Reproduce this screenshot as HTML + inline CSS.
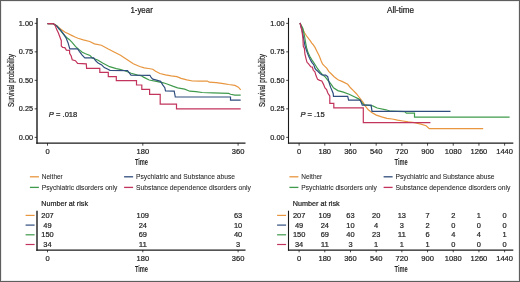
<!DOCTYPE html><html><head><meta charset="utf-8"><style>html,body{margin:0;padding:0;background:#fff}svg{display:block;will-change:transform}text{font-family:"Liberation Sans", sans-serif;stroke:#1e1e1e;stroke-width:0.22px}</style></head><body>
<svg width="520" height="282" viewBox="0 0 520 282">
<rect x="0" y="0" width="520" height="282" fill="#fff"/>
<text x="141.6" y="12.6" font-size="8.2" text-anchor="middle" textLength="22.4" lengthAdjust="spacingAndGlyphs" fill="#1e1e1e" >1-year</text>
<line x1="37.0" y1="17.9" x2="37.0" y2="143.7" stroke="#1a1a1a" stroke-width="1.4"/>
<line x1="36.3" y1="143.1" x2="245.5" y2="143.1" stroke="#1a1a1a" stroke-width="1.2"/>
<line x1="34.7" y1="137.35" x2="37.0" y2="137.35" stroke="#1a1a1a" stroke-width="0.8"/>
<text x="33.0" y="139.85" font-size="7.9" text-anchor="end" textLength="14.2" lengthAdjust="spacingAndGlyphs" fill="#1e1e1e" >0.00</text>
<line x1="34.7" y1="108.85" x2="37.0" y2="108.85" stroke="#1a1a1a" stroke-width="0.8"/>
<text x="33.0" y="111.35" font-size="7.9" text-anchor="end" textLength="14.2" lengthAdjust="spacingAndGlyphs" fill="#1e1e1e" >0.25</text>
<line x1="34.7" y1="80.35" x2="37.0" y2="80.35" stroke="#1a1a1a" stroke-width="0.8"/>
<text x="33.0" y="82.85" font-size="7.9" text-anchor="end" textLength="14.2" lengthAdjust="spacingAndGlyphs" fill="#1e1e1e" >0.50</text>
<line x1="34.7" y1="51.85" x2="37.0" y2="51.85" stroke="#1a1a1a" stroke-width="0.8"/>
<text x="33.0" y="54.349999999999994" font-size="7.9" text-anchor="end" textLength="14.2" lengthAdjust="spacingAndGlyphs" fill="#1e1e1e" >0.75</text>
<line x1="34.7" y1="23.35" x2="37.0" y2="23.35" stroke="#1a1a1a" stroke-width="0.8"/>
<text x="33.0" y="25.849999999999994" font-size="7.9" text-anchor="end" textLength="14.2" lengthAdjust="spacingAndGlyphs" fill="#1e1e1e" >1.00</text>
<line x1="47.50" y1="143" x2="47.50" y2="145.7" stroke="#1a1a1a" stroke-width="0.8"/>
<text x="47.50" y="154.2" font-size="8.0" text-anchor="middle" textLength="4.20" lengthAdjust="spacingAndGlyphs" fill="#1e1e1e" >0</text>
<line x1="142.80" y1="143" x2="142.80" y2="145.7" stroke="#1a1a1a" stroke-width="0.8"/>
<text x="142.80" y="154.2" font-size="8.0" text-anchor="middle" textLength="12.59" lengthAdjust="spacingAndGlyphs" fill="#1e1e1e" >180</text>
<line x1="238.10" y1="143" x2="238.10" y2="145.7" stroke="#1a1a1a" stroke-width="0.8"/>
<text x="238.10" y="154.2" font-size="8.0" text-anchor="middle" textLength="12.59" lengthAdjust="spacingAndGlyphs" fill="#1e1e1e" >360</text>
<text x="141.45" y="165" font-size="9.0" text-anchor="middle" textLength="13.1" lengthAdjust="spacingAndGlyphs" fill="#1e1e1e" font-weight="bold" style="stroke-width:0">Time</text>
<text transform="translate(13.8,80.5) rotate(-90)" x="0" y="0" font-size="8.6" text-anchor="middle" textLength="52.8" lengthAdjust="spacingAndGlyphs" fill="#1e1e1e">Survival probability</text>
<text x="48.8" y="116.6" font-size="7.6" fill="#1e1e1e"><tspan font-style="italic">P</tspan> = .018</text>
<text x="400.6" y="12.6" font-size="8.2" text-anchor="middle" textLength="27.0" lengthAdjust="spacingAndGlyphs" fill="#1e1e1e" >All-time</text>
<line x1="288.5" y1="17.9" x2="288.5" y2="143.7" stroke="#1a1a1a" stroke-width="1.1"/>
<line x1="287.95" y1="143.1" x2="513.3" y2="143.1" stroke="#1a1a1a" stroke-width="1.2"/>
<line x1="286.2" y1="137.35" x2="288.5" y2="137.35" stroke="#1a1a1a" stroke-width="0.8"/>
<text x="284.5" y="139.85" font-size="7.9" text-anchor="end" textLength="14.2" lengthAdjust="spacingAndGlyphs" fill="#1e1e1e" >0.00</text>
<line x1="286.2" y1="108.85" x2="288.5" y2="108.85" stroke="#1a1a1a" stroke-width="0.8"/>
<text x="284.5" y="111.35" font-size="7.9" text-anchor="end" textLength="14.2" lengthAdjust="spacingAndGlyphs" fill="#1e1e1e" >0.25</text>
<line x1="286.2" y1="80.35" x2="288.5" y2="80.35" stroke="#1a1a1a" stroke-width="0.8"/>
<text x="284.5" y="82.85" font-size="7.9" text-anchor="end" textLength="14.2" lengthAdjust="spacingAndGlyphs" fill="#1e1e1e" >0.50</text>
<line x1="286.2" y1="51.85" x2="288.5" y2="51.85" stroke="#1a1a1a" stroke-width="0.8"/>
<text x="284.5" y="54.349999999999994" font-size="7.9" text-anchor="end" textLength="14.2" lengthAdjust="spacingAndGlyphs" fill="#1e1e1e" >0.75</text>
<line x1="286.2" y1="23.35" x2="288.5" y2="23.35" stroke="#1a1a1a" stroke-width="0.8"/>
<text x="284.5" y="25.849999999999994" font-size="7.9" text-anchor="end" textLength="14.2" lengthAdjust="spacingAndGlyphs" fill="#1e1e1e" >1.00</text>
<line x1="299.10" y1="143" x2="299.10" y2="145.7" stroke="#1a1a1a" stroke-width="0.8"/>
<text x="299.10" y="154.2" font-size="8.0" text-anchor="middle" textLength="4.20" lengthAdjust="spacingAndGlyphs" fill="#1e1e1e" >0</text>
<line x1="324.79" y1="143" x2="324.79" y2="145.7" stroke="#1a1a1a" stroke-width="0.8"/>
<text x="324.79" y="154.2" font-size="8.0" text-anchor="middle" textLength="12.59" lengthAdjust="spacingAndGlyphs" fill="#1e1e1e" >180</text>
<line x1="350.48" y1="143" x2="350.48" y2="145.7" stroke="#1a1a1a" stroke-width="0.8"/>
<text x="350.48" y="154.2" font-size="8.0" text-anchor="middle" textLength="12.59" lengthAdjust="spacingAndGlyphs" fill="#1e1e1e" >360</text>
<line x1="376.17" y1="143" x2="376.17" y2="145.7" stroke="#1a1a1a" stroke-width="0.8"/>
<text x="376.17" y="154.2" font-size="8.0" text-anchor="middle" textLength="12.59" lengthAdjust="spacingAndGlyphs" fill="#1e1e1e" >540</text>
<line x1="401.86" y1="143" x2="401.86" y2="145.7" stroke="#1a1a1a" stroke-width="0.8"/>
<text x="401.86" y="154.2" font-size="8.0" text-anchor="middle" textLength="12.59" lengthAdjust="spacingAndGlyphs" fill="#1e1e1e" >720</text>
<line x1="427.55" y1="143" x2="427.55" y2="145.7" stroke="#1a1a1a" stroke-width="0.8"/>
<text x="427.55" y="154.2" font-size="8.0" text-anchor="middle" textLength="12.59" lengthAdjust="spacingAndGlyphs" fill="#1e1e1e" >900</text>
<line x1="453.24" y1="143" x2="453.24" y2="145.7" stroke="#1a1a1a" stroke-width="0.8"/>
<text x="453.24" y="154.2" font-size="8.0" text-anchor="middle" textLength="16.79" lengthAdjust="spacingAndGlyphs" fill="#1e1e1e" >1080</text>
<line x1="478.93" y1="143" x2="478.93" y2="145.7" stroke="#1a1a1a" stroke-width="0.8"/>
<text x="478.93" y="154.2" font-size="8.0" text-anchor="middle" textLength="16.79" lengthAdjust="spacingAndGlyphs" fill="#1e1e1e" >1260</text>
<line x1="504.62" y1="143" x2="504.62" y2="145.7" stroke="#1a1a1a" stroke-width="0.8"/>
<text x="504.62" y="154.2" font-size="8.0" text-anchor="middle" textLength="16.79" lengthAdjust="spacingAndGlyphs" fill="#1e1e1e" >1440</text>
<text x="401.10" y="165" font-size="9.0" text-anchor="middle" textLength="13.1" lengthAdjust="spacingAndGlyphs" fill="#1e1e1e" font-weight="bold" style="stroke-width:0">Time</text>
<text transform="translate(265.3,80.5) rotate(-90)" x="0" y="0" font-size="8.6" text-anchor="middle" textLength="52.8" lengthAdjust="spacingAndGlyphs" fill="#1e1e1e">Survival probability</text>
<text x="300.40000000000003" y="116.6" font-size="7.6" fill="#1e1e1e"><tspan font-style="italic">P</tspan> = .15</text>
<polyline points="47.50,23.60 53.00,23.60 55.60,24.80 58.80,27.40 62.00,30.10 65.20,32.20 68.40,33.80 71.60,35.40 75.00,37.00 78.00,38.20 83.30,39.90 89.70,41.50 94.40,43.90 101.40,45.20 107.80,48.80 114.10,52.00 120.50,55.20 126.90,59.50 133.30,63.70 139.70,66.50 144.30,67.80 148.50,68.50 152.80,69.20 155.60,71.30 159.90,73.50 165.50,74.90 171.20,75.90 176.90,76.70 181.10,78.40 186.80,79.90 192.50,81.00 200.00,81.10 207.40,81.00 209.20,82.20 216.30,82.70 223.40,83.60 228.70,84.50 234.90,85.40 238.40,87.20 240.70,89.80" fill="none" stroke="#e8963f" stroke-width="1.2" stroke-linejoin="miter" stroke-linecap="butt"/>
<polyline points="47.50,23.60 53.00,23.60 56.70,25.90 58.80,28.50 61.00,31.20 63.10,33.80 65.20,36.00 67.30,38.10 69.50,39.70 72.30,42.60 75.40,46.40 77.60,48.50 79.70,50.10 82.30,52.20 85.50,53.80 90.00,55.40 92.30,58.00 97.70,60.00 102.60,63.10 109.60,66.70 116.30,68.60 120.00,69.30 124.80,70.70 131.20,73.30 137.60,75.20 141.00,75.60 143.50,77.10 149.20,80.00 156.30,81.40 163.40,82.80 167.70,84.20 173.40,86.40 177.60,87.80 184.70,89.20 189.70,91.20 196.00,91.60 202.10,92.50 212.70,92.80 228.70,93.40 230.50,94.30 234.90,95.10 240.70,95.10" fill="none" stroke="#3f9a4c" stroke-width="1.2" stroke-linejoin="miter" stroke-linecap="butt"/>
<polyline points="47.50,23.60 53.00,23.60 56.70,25.90 58.80,28.50 60.00,29.40 63.50,33.90 66.20,38.30 68.00,42.70 69.80,48.90 77.70,48.90 79.50,51.60 82.20,55.10 84.80,57.80 93.70,57.80 95.50,60.50 98.10,63.10 101.70,64.90 104.30,67.60 107.90,69.30 110.00,70.40 127.50,70.60 131.00,75.10 149.90,75.30 151.30,77.70 152.80,79.10 155.60,79.90 160.60,81.30 162.70,84.80 164.80,87.70 165.50,90.80 174.20,91.20 175.30,97.00 230.50,97.00 230.50,100.10 240.70,100.10" fill="none" stroke="#2f4d7e" stroke-width="1.2" stroke-linejoin="miter" stroke-linecap="butt"/>
<polyline points="47.50,23.60 53.00,23.60 55.10,25.30 56.70,29.60 58.30,32.80 59.90,37.00 61.30,40.70 61.30,45.90 62.70,47.40 64.80,47.60 66.40,50.10 69.60,50.40 69.60,53.30 71.20,56.00 72.20,59.70 75.40,60.70 77.60,63.40 86.30,63.90 86.60,68.30 99.80,68.30 99.80,72.30 108.30,72.30 108.30,76.60 116.30,76.60 116.30,80.70 136.50,80.70 136.50,85.00 141.80,85.00 141.80,89.30 149.60,89.30 149.60,94.40 160.20,94.40 160.20,104.20 176.50,104.20 176.50,108.90 240.70,108.90" fill="none" stroke="#c2345c" stroke-width="1.2" stroke-linejoin="miter" stroke-linecap="butt"/>
<polyline points="300.00,23.00 302.90,29.60 304.50,32.80 306.60,36.00 309.80,40.20 311.80,43.20 313.00,44.50 315.00,47.40 317.10,51.70 319.30,56.00 320.90,60.20 322.50,63.90 324.60,66.10 326.70,68.20 328.70,71.40 331.40,74.00 334.10,76.70 336.70,78.80 338.50,80.00 342.00,81.40 347.70,84.30 350.50,87.80 353.40,90.60 356.20,93.50 359.00,97.00 361.20,99.90 363.30,102.70 364.80,105.40 368.30,109.80 371.80,112.50 376.30,115.10 381.60,116.90 386.90,118.30 392.20,119.00 397.60,120.10 402.90,121.00 408.20,121.90 414.50,122.60 420.90,124.20 426.10,125.70 429.30,128.70 483.20,128.70" fill="none" stroke="#e8963f" stroke-width="1.2" stroke-linejoin="miter" stroke-linecap="butt"/>
<polyline points="300.00,23.00 302.90,28.50 304.50,36.00 305.50,42.00 306.50,47.40 308.10,52.80 310.20,57.00 312.40,60.70 315.00,64.50 317.60,68.70 319.70,71.40 322.40,74.60 325.00,76.70 327.10,79.40 329.30,82.00 331.40,84.70 333.50,87.80 337.80,90.60 343.40,92.10 349.10,94.20 354.80,97.00 359.00,99.10 361.90,102.70 364.00,104.80 372.70,105.90 377.20,108.00 386.00,109.80 390.50,111.20 404.60,111.60 406.40,113.20 414.50,113.20 414.50,117.20 509.60,117.20" fill="none" stroke="#3f9a4c" stroke-width="1.2" stroke-linejoin="miter" stroke-linecap="butt"/>
<polyline points="300.00,23.00 302.00,30.00 303.90,40.00 304.90,45.30 306.50,50.60 308.10,54.90 309.70,58.60 311.80,62.30 313.90,65.00 314.90,68.20 316.00,69.80 317.60,71.00 320.00,73.50 322.00,74.80 325.60,75.10 327.70,76.70 328.70,81.00 329.80,84.70 330.90,87.90 332.00,90.50 333.20,93.50 333.50,96.30 347.70,96.30 348.60,100.10 360.30,100.10 362.30,105.10 371.10,105.10 372.00,111.30 450.50,111.30" fill="none" stroke="#2f4d7e" stroke-width="1.2" stroke-linejoin="miter" stroke-linecap="butt"/>
<polyline points="300.00,23.00 301.90,30.60 302.90,38.10 303.30,46.40 304.40,48.50 304.90,53.80 306.00,58.60 307.00,62.30 308.60,63.90 309.70,65.50 310.80,66.80 312.30,67.10 313.30,70.30 314.90,71.90 316.00,75.60 317.60,79.40 319.70,80.40 321.80,81.00 323.40,84.10 325.00,87.90 326.60,89.50 327.70,92.70 328.50,94.20 329.80,96.00 329.80,103.30 333.80,103.30 333.80,107.90 363.30,107.90 363.30,122.60 430.40,122.60" fill="none" stroke="#c2345c" stroke-width="1.2" stroke-linejoin="miter" stroke-linecap="butt"/>
<line x1="29.90" y1="176.8" x2="38.90" y2="176.8" stroke="#e8963f" stroke-width="1.3"/>
<text x="41.80" y="179.20000000000002" font-size="7.1" text-anchor="start" textLength="21" lengthAdjust="spacingAndGlyphs" fill="#1e1e1e" style="stroke-width:0.05px">Neither</text>
<line x1="124.10" y1="176.8" x2="133.10" y2="176.8" stroke="#2f4d7e" stroke-width="1.3"/>
<text x="136.00" y="179.20000000000002" font-size="7.1" text-anchor="start" textLength="99" lengthAdjust="spacingAndGlyphs" fill="#1e1e1e" style="stroke-width:0.05px">Psychiatric and Substance abuse</text>
<line x1="29.90" y1="187.4" x2="38.90" y2="187.4" stroke="#3f9a4c" stroke-width="1.3"/>
<text x="41.80" y="189.8" font-size="7.1" text-anchor="start" textLength="75.6" lengthAdjust="spacingAndGlyphs" fill="#1e1e1e" style="stroke-width:0.05px">Psychiatric disorders only</text>
<line x1="124.10" y1="187.4" x2="133.10" y2="187.4" stroke="#c2345c" stroke-width="1.3"/>
<text x="136.00" y="189.8" font-size="7.1" text-anchor="start" textLength="115" lengthAdjust="spacingAndGlyphs" fill="#1e1e1e" style="stroke-width:0.05px">Substance dependence disorders only</text>
<line x1="289.40" y1="176.8" x2="298.40" y2="176.8" stroke="#e8963f" stroke-width="1.3"/>
<text x="301.30" y="179.20000000000002" font-size="7.1" text-anchor="start" textLength="21" lengthAdjust="spacingAndGlyphs" fill="#1e1e1e" style="stroke-width:0.05px">Neither</text>
<line x1="383.60" y1="176.8" x2="392.60" y2="176.8" stroke="#2f4d7e" stroke-width="1.3"/>
<text x="395.50" y="179.20000000000002" font-size="7.1" text-anchor="start" textLength="99" lengthAdjust="spacingAndGlyphs" fill="#1e1e1e" style="stroke-width:0.05px">Psychiatric and Substance abuse</text>
<line x1="289.40" y1="187.4" x2="298.40" y2="187.4" stroke="#3f9a4c" stroke-width="1.3"/>
<text x="301.30" y="189.8" font-size="7.1" text-anchor="start" textLength="75.6" lengthAdjust="spacingAndGlyphs" fill="#1e1e1e" style="stroke-width:0.05px">Psychiatric disorders only</text>
<line x1="383.60" y1="187.4" x2="392.60" y2="187.4" stroke="#c2345c" stroke-width="1.3"/>
<text x="395.50" y="189.8" font-size="7.1" text-anchor="start" textLength="115" lengthAdjust="spacingAndGlyphs" fill="#1e1e1e" style="stroke-width:0.05px">Substance dependence disorders only</text>
<text x="41.2" y="206.3" font-size="7.4" text-anchor="start" textLength="46.9" lengthAdjust="spacingAndGlyphs" fill="#1e1e1e" >Number at risk</text>
<line x1="37.0" y1="210.7" x2="37.0" y2="250.7" stroke="#1a1a1a" stroke-width="1.4"/>
<line x1="36.3" y1="250.1" x2="245.5" y2="250.1" stroke="#1a1a1a" stroke-width="1.2"/>
<line x1="25.60" y1="215.40" x2="34.60" y2="215.40" stroke="#e8963f" stroke-width="1.2"/>
<text x="47.50" y="217.90" font-size="8.0" text-anchor="middle" textLength="12.43" lengthAdjust="spacingAndGlyphs" fill="#1e1e1e" >207</text>
<text x="142.80" y="217.90" font-size="8.0" text-anchor="middle" textLength="12.43" lengthAdjust="spacingAndGlyphs" fill="#1e1e1e" >109</text>
<text x="238.10" y="217.90" font-size="8.0" text-anchor="middle" textLength="8.28" lengthAdjust="spacingAndGlyphs" fill="#1e1e1e" >63</text>
<line x1="25.60" y1="225.10" x2="34.60" y2="225.10" stroke="#2f4d7e" stroke-width="1.2"/>
<text x="47.50" y="227.60" font-size="8.0" text-anchor="middle" textLength="8.28" lengthAdjust="spacingAndGlyphs" fill="#1e1e1e" >49</text>
<text x="142.80" y="227.60" font-size="8.0" text-anchor="middle" textLength="8.28" lengthAdjust="spacingAndGlyphs" fill="#1e1e1e" >24</text>
<text x="238.10" y="227.60" font-size="8.0" text-anchor="middle" textLength="8.28" lengthAdjust="spacingAndGlyphs" fill="#1e1e1e" >10</text>
<line x1="25.60" y1="234.80" x2="34.60" y2="234.80" stroke="#3f9a4c" stroke-width="1.2"/>
<text x="47.50" y="237.30" font-size="8.0" text-anchor="middle" textLength="12.43" lengthAdjust="spacingAndGlyphs" fill="#1e1e1e" >150</text>
<text x="142.80" y="237.30" font-size="8.0" text-anchor="middle" textLength="8.28" lengthAdjust="spacingAndGlyphs" fill="#1e1e1e" >69</text>
<text x="238.10" y="237.30" font-size="8.0" text-anchor="middle" textLength="8.28" lengthAdjust="spacingAndGlyphs" fill="#1e1e1e" >40</text>
<line x1="25.60" y1="244.50" x2="34.60" y2="244.50" stroke="#c2345c" stroke-width="1.2"/>
<text x="47.50" y="247.00" font-size="8.0" text-anchor="middle" textLength="8.28" lengthAdjust="spacingAndGlyphs" fill="#1e1e1e" >34</text>
<text x="142.80" y="247.00" font-size="8.0" text-anchor="middle" textLength="8.28" lengthAdjust="spacingAndGlyphs" fill="#1e1e1e" >11</text>
<text x="238.10" y="247.00" font-size="8.0" text-anchor="middle" textLength="4.14" lengthAdjust="spacingAndGlyphs" fill="#1e1e1e" >3</text>
<line x1="47.50" y1="250" x2="47.50" y2="252.3" stroke="#1a1a1a" stroke-width="0.8"/>
<text x="47.50" y="261.0" font-size="8.0" text-anchor="middle" textLength="4.20" lengthAdjust="spacingAndGlyphs" fill="#1e1e1e" >0</text>
<line x1="142.80" y1="250" x2="142.80" y2="252.3" stroke="#1a1a1a" stroke-width="0.8"/>
<text x="142.80" y="261.0" font-size="8.0" text-anchor="middle" textLength="12.59" lengthAdjust="spacingAndGlyphs" fill="#1e1e1e" >180</text>
<line x1="238.10" y1="250" x2="238.10" y2="252.3" stroke="#1a1a1a" stroke-width="0.8"/>
<text x="238.10" y="261.0" font-size="8.0" text-anchor="middle" textLength="12.59" lengthAdjust="spacingAndGlyphs" fill="#1e1e1e" >360</text>
<text x="141.45" y="271.8" font-size="9.0" text-anchor="middle" textLength="13.1" lengthAdjust="spacingAndGlyphs" fill="#1e1e1e" font-weight="bold" style="stroke-width:0">Time</text>
<text x="292.8" y="206.3" font-size="7.4" text-anchor="start" textLength="46.9" lengthAdjust="spacingAndGlyphs" fill="#1e1e1e" >Number at risk</text>
<line x1="288.5" y1="210.7" x2="288.5" y2="250.7" stroke="#1a1a1a" stroke-width="1.1"/>
<line x1="287.95" y1="250.1" x2="513.3" y2="250.1" stroke="#1a1a1a" stroke-width="1.2"/>
<line x1="277.10" y1="215.40" x2="286.10" y2="215.40" stroke="#e8963f" stroke-width="1.2"/>
<text x="299.10" y="217.90" font-size="8.0" text-anchor="middle" textLength="12.43" lengthAdjust="spacingAndGlyphs" fill="#1e1e1e" >207</text>
<text x="324.79" y="217.90" font-size="8.0" text-anchor="middle" textLength="12.43" lengthAdjust="spacingAndGlyphs" fill="#1e1e1e" >109</text>
<text x="350.48" y="217.90" font-size="8.0" text-anchor="middle" textLength="8.28" lengthAdjust="spacingAndGlyphs" fill="#1e1e1e" >63</text>
<text x="376.17" y="217.90" font-size="8.0" text-anchor="middle" textLength="8.28" lengthAdjust="spacingAndGlyphs" fill="#1e1e1e" >20</text>
<text x="401.86" y="217.90" font-size="8.0" text-anchor="middle" textLength="8.28" lengthAdjust="spacingAndGlyphs" fill="#1e1e1e" >13</text>
<text x="427.55" y="217.90" font-size="8.0" text-anchor="middle" textLength="4.14" lengthAdjust="spacingAndGlyphs" fill="#1e1e1e" >7</text>
<text x="453.24" y="217.90" font-size="8.0" text-anchor="middle" textLength="4.14" lengthAdjust="spacingAndGlyphs" fill="#1e1e1e" >2</text>
<text x="478.93" y="217.90" font-size="8.0" text-anchor="middle" textLength="4.14" lengthAdjust="spacingAndGlyphs" fill="#1e1e1e" >1</text>
<text x="504.62" y="217.90" font-size="8.0" text-anchor="middle" textLength="4.14" lengthAdjust="spacingAndGlyphs" fill="#1e1e1e" >0</text>
<line x1="277.10" y1="225.10" x2="286.10" y2="225.10" stroke="#2f4d7e" stroke-width="1.2"/>
<text x="299.10" y="227.60" font-size="8.0" text-anchor="middle" textLength="8.28" lengthAdjust="spacingAndGlyphs" fill="#1e1e1e" >49</text>
<text x="324.79" y="227.60" font-size="8.0" text-anchor="middle" textLength="8.28" lengthAdjust="spacingAndGlyphs" fill="#1e1e1e" >24</text>
<text x="350.48" y="227.60" font-size="8.0" text-anchor="middle" textLength="8.28" lengthAdjust="spacingAndGlyphs" fill="#1e1e1e" >10</text>
<text x="376.17" y="227.60" font-size="8.0" text-anchor="middle" textLength="4.14" lengthAdjust="spacingAndGlyphs" fill="#1e1e1e" >4</text>
<text x="401.86" y="227.60" font-size="8.0" text-anchor="middle" textLength="4.14" lengthAdjust="spacingAndGlyphs" fill="#1e1e1e" >3</text>
<text x="427.55" y="227.60" font-size="8.0" text-anchor="middle" textLength="4.14" lengthAdjust="spacingAndGlyphs" fill="#1e1e1e" >2</text>
<text x="453.24" y="227.60" font-size="8.0" text-anchor="middle" textLength="4.14" lengthAdjust="spacingAndGlyphs" fill="#1e1e1e" >0</text>
<text x="478.93" y="227.60" font-size="8.0" text-anchor="middle" textLength="4.14" lengthAdjust="spacingAndGlyphs" fill="#1e1e1e" >0</text>
<text x="504.62" y="227.60" font-size="8.0" text-anchor="middle" textLength="4.14" lengthAdjust="spacingAndGlyphs" fill="#1e1e1e" >0</text>
<line x1="277.10" y1="234.80" x2="286.10" y2="234.80" stroke="#3f9a4c" stroke-width="1.2"/>
<text x="299.10" y="237.30" font-size="8.0" text-anchor="middle" textLength="12.43" lengthAdjust="spacingAndGlyphs" fill="#1e1e1e" >150</text>
<text x="324.79" y="237.30" font-size="8.0" text-anchor="middle" textLength="8.28" lengthAdjust="spacingAndGlyphs" fill="#1e1e1e" >69</text>
<text x="350.48" y="237.30" font-size="8.0" text-anchor="middle" textLength="8.28" lengthAdjust="spacingAndGlyphs" fill="#1e1e1e" >40</text>
<text x="376.17" y="237.30" font-size="8.0" text-anchor="middle" textLength="8.28" lengthAdjust="spacingAndGlyphs" fill="#1e1e1e" >23</text>
<text x="401.86" y="237.30" font-size="8.0" text-anchor="middle" textLength="8.28" lengthAdjust="spacingAndGlyphs" fill="#1e1e1e" >11</text>
<text x="427.55" y="237.30" font-size="8.0" text-anchor="middle" textLength="4.14" lengthAdjust="spacingAndGlyphs" fill="#1e1e1e" >6</text>
<text x="453.24" y="237.30" font-size="8.0" text-anchor="middle" textLength="4.14" lengthAdjust="spacingAndGlyphs" fill="#1e1e1e" >4</text>
<text x="478.93" y="237.30" font-size="8.0" text-anchor="middle" textLength="4.14" lengthAdjust="spacingAndGlyphs" fill="#1e1e1e" >4</text>
<text x="504.62" y="237.30" font-size="8.0" text-anchor="middle" textLength="4.14" lengthAdjust="spacingAndGlyphs" fill="#1e1e1e" >1</text>
<line x1="277.10" y1="244.50" x2="286.10" y2="244.50" stroke="#c2345c" stroke-width="1.2"/>
<text x="299.10" y="247.00" font-size="8.0" text-anchor="middle" textLength="8.28" lengthAdjust="spacingAndGlyphs" fill="#1e1e1e" >34</text>
<text x="324.79" y="247.00" font-size="8.0" text-anchor="middle" textLength="8.28" lengthAdjust="spacingAndGlyphs" fill="#1e1e1e" >11</text>
<text x="350.48" y="247.00" font-size="8.0" text-anchor="middle" textLength="4.14" lengthAdjust="spacingAndGlyphs" fill="#1e1e1e" >3</text>
<text x="376.17" y="247.00" font-size="8.0" text-anchor="middle" textLength="4.14" lengthAdjust="spacingAndGlyphs" fill="#1e1e1e" >1</text>
<text x="401.86" y="247.00" font-size="8.0" text-anchor="middle" textLength="4.14" lengthAdjust="spacingAndGlyphs" fill="#1e1e1e" >1</text>
<text x="427.55" y="247.00" font-size="8.0" text-anchor="middle" textLength="4.14" lengthAdjust="spacingAndGlyphs" fill="#1e1e1e" >1</text>
<text x="453.24" y="247.00" font-size="8.0" text-anchor="middle" textLength="4.14" lengthAdjust="spacingAndGlyphs" fill="#1e1e1e" >0</text>
<text x="478.93" y="247.00" font-size="8.0" text-anchor="middle" textLength="4.14" lengthAdjust="spacingAndGlyphs" fill="#1e1e1e" >0</text>
<text x="504.62" y="247.00" font-size="8.0" text-anchor="middle" textLength="4.14" lengthAdjust="spacingAndGlyphs" fill="#1e1e1e" >0</text>
<line x1="299.10" y1="250" x2="299.10" y2="252.3" stroke="#1a1a1a" stroke-width="0.8"/>
<text x="299.10" y="261.0" font-size="8.0" text-anchor="middle" textLength="4.20" lengthAdjust="spacingAndGlyphs" fill="#1e1e1e" >0</text>
<line x1="324.79" y1="250" x2="324.79" y2="252.3" stroke="#1a1a1a" stroke-width="0.8"/>
<text x="324.79" y="261.0" font-size="8.0" text-anchor="middle" textLength="12.59" lengthAdjust="spacingAndGlyphs" fill="#1e1e1e" >180</text>
<line x1="350.48" y1="250" x2="350.48" y2="252.3" stroke="#1a1a1a" stroke-width="0.8"/>
<text x="350.48" y="261.0" font-size="8.0" text-anchor="middle" textLength="12.59" lengthAdjust="spacingAndGlyphs" fill="#1e1e1e" >360</text>
<line x1="376.17" y1="250" x2="376.17" y2="252.3" stroke="#1a1a1a" stroke-width="0.8"/>
<text x="376.17" y="261.0" font-size="8.0" text-anchor="middle" textLength="12.59" lengthAdjust="spacingAndGlyphs" fill="#1e1e1e" >540</text>
<line x1="401.86" y1="250" x2="401.86" y2="252.3" stroke="#1a1a1a" stroke-width="0.8"/>
<text x="401.86" y="261.0" font-size="8.0" text-anchor="middle" textLength="12.59" lengthAdjust="spacingAndGlyphs" fill="#1e1e1e" >720</text>
<line x1="427.55" y1="250" x2="427.55" y2="252.3" stroke="#1a1a1a" stroke-width="0.8"/>
<text x="427.55" y="261.0" font-size="8.0" text-anchor="middle" textLength="12.59" lengthAdjust="spacingAndGlyphs" fill="#1e1e1e" >900</text>
<line x1="453.24" y1="250" x2="453.24" y2="252.3" stroke="#1a1a1a" stroke-width="0.8"/>
<text x="453.24" y="261.0" font-size="8.0" text-anchor="middle" textLength="16.79" lengthAdjust="spacingAndGlyphs" fill="#1e1e1e" >1080</text>
<line x1="478.93" y1="250" x2="478.93" y2="252.3" stroke="#1a1a1a" stroke-width="0.8"/>
<text x="478.93" y="261.0" font-size="8.0" text-anchor="middle" textLength="16.79" lengthAdjust="spacingAndGlyphs" fill="#1e1e1e" >1260</text>
<line x1="504.62" y1="250" x2="504.62" y2="252.3" stroke="#1a1a1a" stroke-width="0.8"/>
<text x="504.62" y="261.0" font-size="8.0" text-anchor="middle" textLength="16.79" lengthAdjust="spacingAndGlyphs" fill="#1e1e1e" >1440</text>
<text x="401.10" y="271.8" font-size="9.0" text-anchor="middle" textLength="13.1" lengthAdjust="spacingAndGlyphs" fill="#1e1e1e" font-weight="bold" style="stroke-width:0">Time</text>
<rect x="0.5" y="0.5" width="519" height="281" fill="none" stroke="#5e5e5e" stroke-width="1"/>
<rect x="1.5" y="1.5" width="517" height="279" fill="none" stroke="#ececec" stroke-width="1"/>
</svg></body></html>
